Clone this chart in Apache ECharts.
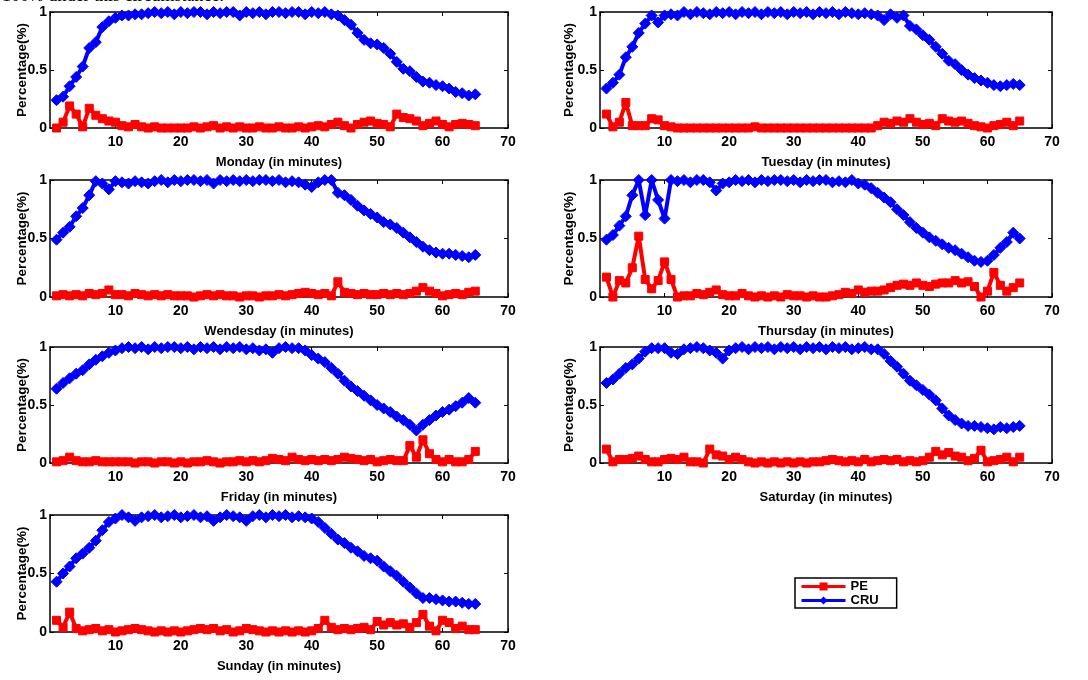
<!DOCTYPE html>
<html>
<head>
<meta charset="utf-8">
<script src="https://cdn.jsdelivr.net/npm/echarts@6/dist/echarts.min.js"></script>
<style>
html,body{margin:0;padding:0;background:#fff;}
#chart{width:1088px;height:680px;}
</style>
</head>
<body>
<div id="chart"></div>
<script>
// ---------- DATA ----------
const minutes = [1,2,3,4,5,6,7,8,9,10,11,12,13,14,15,16,17,18,19,20,21,22,23,24,25,26,27,28,29,30,31,32,33,34,35,36,37,38,39,40,41,42,43,44,45,46,47,48,49,50,51,52,53,54,55,56,57,58,59,60,61,62,63,64,65];
const seriesNames = ['PE', 'CRU'];
const dayLabels = ['Monday (in minutes)','Tuesday (in minutes)','Wendesday (in minutes)','Thursday (in minutes)','Friday (in minutes)','Saturday (in minutes)','Sunday (in minutes)'];
const xTicks = [0,10,20,30,40,50,60,70];
const yTicks = [0,0.5,1];

const monCRU = [0.24,0.27,0.36,0.44,0.53,0.69,0.74,0.87,0.92,0.95,0.97,0.97,0.98,0.98,0.99,1.0,0.99,1.0,0.98,1.0,0.99,1.0,1.0,0.98,1.0,0.99,1.0,1.0,0.97,1.0,0.99,1.0,0.98,1.0,1.0,0.99,1.0,1.0,0.98,1.0,0.99,1.0,0.98,0.97,0.93,0.89,0.82,0.76,0.73,0.72,0.69,0.64,0.57,0.51,0.49,0.44,0.40,0.39,0.37,0.36,0.34,0.31,0.30,0.28,0.29];
const monPE  = [0.0,0.05,0.19,0.12,0.01,0.17,0.11,0.08,0.06,0.05,0.02,0.01,0.03,0.01,0.0,0.01,0.0,0.0,0.0,0.0,0.0,0.01,0.0,0.01,0.02,0.0,0.01,0.0,0.01,0.0,0.0,0.01,0.0,0.0,0.01,0.0,0.0,0.01,0.0,0.01,0.02,0.01,0.03,0.05,0.02,0.0,0.03,0.05,0.06,0.04,0.03,0.01,0.12,0.09,0.08,0.06,0.02,0.04,0.06,0.03,0.01,0.03,0.04,0.03,0.02];
const tueCRU = [0.34,0.39,0.46,0.61,0.70,0.82,0.90,0.97,0.91,0.97,0.98,0.97,1.0,0.98,1.0,0.99,0.98,1.0,0.99,1.0,0.98,1.0,0.99,1.0,0.98,1.0,0.99,1.0,0.98,1.0,0.99,1.0,0.98,1.0,0.99,1.0,0.98,1.0,0.99,0.98,0.99,0.98,0.97,0.93,0.98,0.95,0.97,0.88,0.85,0.80,0.76,0.70,0.64,0.58,0.55,0.50,0.46,0.43,0.41,0.39,0.37,0.36,0.37,0.38,0.37];
const tuePE  = [0.12,0.01,0.05,0.22,0.02,0.02,0.02,0.08,0.07,0.02,0.01,0.0,0.0,0.0,0.0,0.0,0.0,0.0,0.0,0.0,0.0,0.0,0.0,0.01,0.0,0.0,0.0,0.0,0.0,0.0,0.0,0.0,0.0,0.0,0.0,0.0,0.0,0.0,0.0,0.0,0.0,0.0,0.02,0.05,0.04,0.06,0.05,0.08,0.05,0.03,0.04,0.02,0.08,0.06,0.05,0.06,0.04,0.02,0.01,0.0,0.02,0.03,0.05,0.02,0.06];
const wedCRU = [0.49,0.55,0.60,0.69,0.76,0.87,0.99,0.97,0.92,0.99,0.98,0.97,0.99,0.98,0.97,0.99,1.0,0.98,1.0,0.99,1.0,1.0,0.99,1.0,0.97,1.0,0.99,1.0,0.99,1.0,0.99,1.0,1.0,0.99,1.0,0.98,0.99,0.98,0.96,0.94,0.98,1.0,1.0,0.89,0.87,0.83,0.78,0.74,0.71,0.68,0.64,0.62,0.59,0.55,0.51,0.47,0.43,0.40,0.38,0.37,0.37,0.36,0.35,0.34,0.36];
const wedPE  = [0.01,0.02,0.01,0.02,0.01,0.03,0.02,0.03,0.06,0.02,0.02,0.01,0.03,0.02,0.01,0.02,0.01,0.02,0.01,0.01,0.01,0.0,0.01,0.02,0.01,0.02,0.01,0.01,0.0,0.01,0.01,0.0,0.01,0.01,0.02,0.01,0.02,0.03,0.04,0.03,0.02,0.03,0.01,0.13,0.04,0.03,0.02,0.03,0.02,0.02,0.03,0.02,0.03,0.02,0.03,0.05,0.08,0.05,0.03,0.01,0.02,0.03,0.02,0.04,0.05];
const thuCRU = [0.49,0.53,0.61,0.69,0.87,1.0,0.70,1.0,0.83,0.67,1.0,0.99,1.0,0.98,1.0,1.0,0.98,0.91,0.97,0.98,1.0,0.99,1.0,0.98,1.0,0.99,1.0,1.0,0.99,1.0,0.98,1.0,0.99,1.0,1.0,0.98,0.99,0.98,1.0,0.97,0.96,0.93,0.89,0.85,0.81,0.75,0.70,0.64,0.59,0.55,0.51,0.48,0.45,0.42,0.40,0.37,0.34,0.31,0.30,0.31,0.36,0.42,0.47,0.55,0.50];
const thuPE  = [0.17,0.0,0.14,0.12,0.25,0.52,0.15,0.07,0.14,0.30,0.15,0.0,0.01,0.01,0.03,0.02,0.04,0.06,0.02,0.01,0.01,0.03,0.01,0.0,0.01,0.0,0.01,0.0,0.02,0.01,0.01,0.0,0.01,0.0,0.0,0.01,0.02,0.04,0.03,0.06,0.04,0.05,0.05,0.06,0.08,0.10,0.11,0.10,0.12,0.10,0.09,0.11,0.12,0.12,0.14,0.12,0.13,0.09,0.0,0.05,0.21,0.10,0.05,0.08,0.12];
const friCRU = [0.64,0.69,0.73,0.77,0.80,0.85,0.89,0.92,0.95,0.97,0.99,1.0,0.99,1.0,0.98,1.0,0.99,1.0,1.0,0.99,1.0,0.98,1.0,0.99,1.0,0.98,1.0,0.99,1.0,0.98,0.99,0.97,0.98,0.95,0.99,1.0,0.99,0.99,0.97,0.93,0.90,0.87,0.82,0.77,0.71,0.66,0.62,0.58,0.54,0.50,0.47,0.44,0.40,0.37,0.33,0.28,0.33,0.37,0.41,0.44,0.46,0.49,0.52,0.56,0.52];
const friPE  = [0.01,0.02,0.05,0.02,0.01,0.01,0.02,0.01,0.01,0.01,0.01,0.01,0.0,0.01,0.01,0.0,0.01,0.01,0.0,0.01,0.0,0.01,0.01,0.02,0.01,0.0,0.01,0.01,0.02,0.01,0.02,0.01,0.02,0.04,0.03,0.02,0.05,0.03,0.02,0.03,0.02,0.03,0.02,0.03,0.05,0.04,0.03,0.02,0.03,0.01,0.02,0.03,0.02,0.02,0.15,0.05,0.20,0.08,0.03,0.01,0.03,0.01,0.01,0.03,0.10];
const satCRU = [0.69,0.72,0.77,0.82,0.85,0.90,0.96,0.99,0.99,0.99,0.95,0.94,0.98,0.99,1.0,0.99,0.97,0.95,0.90,0.97,0.99,1.0,0.98,1.0,0.99,1.0,0.98,1.0,0.99,1.0,0.98,1.0,0.99,1.0,0.98,1.0,0.99,1.0,0.98,0.99,1.0,0.98,0.98,0.94,0.88,0.83,0.77,0.71,0.67,0.63,0.59,0.54,0.47,0.41,0.37,0.34,0.32,0.32,0.31,0.30,0.29,0.31,0.30,0.31,0.32];
const satPE  = [0.12,0.01,0.03,0.03,0.04,0.06,0.03,0.01,0.01,0.03,0.04,0.03,0.05,0.01,0.01,0.0,0.12,0.07,0.06,0.03,0.05,0.03,0.01,0.0,0.01,0.0,0.01,0.0,0.01,0.0,0.01,0.0,0.01,0.01,0.02,0.03,0.02,0.01,0.02,0.01,0.03,0.01,0.02,0.03,0.02,0.03,0.01,0.02,0.01,0.02,0.05,0.10,0.07,0.09,0.06,0.05,0.02,0.04,0.11,0.01,0.02,0.03,0.05,0.01,0.05];
const sunCRU = [0.43,0.50,0.56,0.63,0.67,0.72,0.78,0.87,0.94,0.97,1.0,0.98,0.95,0.98,0.99,1.0,0.98,0.99,1.0,0.98,0.99,1.0,0.98,0.99,0.95,0.98,1.0,0.99,0.98,0.95,0.99,1.0,0.98,1.0,0.99,1.0,0.98,0.99,0.98,0.97,0.94,0.89,0.84,0.79,0.76,0.72,0.69,0.65,0.63,0.61,0.56,0.52,0.48,0.43,0.38,0.33,0.29,0.29,0.28,0.27,0.26,0.26,0.25,0.24,0.24];
const sunPE  = [0.10,0.04,0.17,0.03,0.01,0.02,0.03,0.01,0.02,0.0,0.01,0.02,0.03,0.02,0.01,0.0,0.01,0.0,0.01,0.0,0.01,0.02,0.03,0.02,0.03,0.01,0.02,0.0,0.01,0.03,0.02,0.01,0.0,0.01,0.0,0.01,0.0,0.01,0.0,0.01,0.03,0.10,0.04,0.02,0.03,0.02,0.03,0.04,0.02,0.09,0.06,0.08,0.06,0.07,0.04,0.08,0.15,0.05,0.01,0.10,0.08,0.03,0.05,0.02,0.02];

const cruByDay = [monCRU, tueCRU, wedCRU, thuCRU, friCRU, satCRU, sunCRU];
const peByDay  = [monPE, tuePE, wedPE, thuPE, friPE, satPE, sunPE];

// ---------- LAYOUT ----------
const grids = [
  {left: 50,  top: 12,  width: 458, height: 116},
  {left: 600, top: 12,  width: 452, height: 116},
  {left: 50,  top: 180, width: 458, height: 117},
  {left: 600, top: 180, width: 452, height: 117},
  {left: 50,  top: 347, width: 458, height: 116},
  {left: 600, top: 347, width: 452, height: 116},
  {left: 50,  top: 515, width: 458, height: 117}
];
const yNameGap = [21, 24, 21, 24, 21, 24, 21];

const FONT = 'Liberation Sans, Arial, sans-serif';
const lineBlack = {show: true, onZero: false, lineStyle: {color: '#000', width: 1.5}};
const tickIn = {show: true, inside: true, length: 4, lineStyle: {color: '#000', width: 1}};

const xAxes = [], yAxes = [], series = [];
grids.forEach((g, i) => {
  xAxes.push({
    type: 'value', gridIndex: i, min: xTicks[0], max: xTicks[xTicks.length - 1], interval: 10,
    position: 'bottom', axisLine: lineBlack, axisTick: tickIn,
    axisLabel: {show: true, showMinLabel: false, color: '#000', fontFamily: FONT, fontWeight: 'bold', fontSize: 14, margin: 7},
    splitLine: {show: false},
    name: dayLabels[i], nameLocation: 'middle', nameGap: 28, nameMoveOverlap: false,
    nameTextStyle: {color: '#000', fontFamily: FONT, fontWeight: 'bold', fontSize: 13}
  });
  xAxes.push({
    type: 'value', gridIndex: i, min: xTicks[0], max: xTicks[xTicks.length - 1], interval: 10,
    position: 'top', axisLine: lineBlack, axisTick: tickIn,
    axisLabel: {show: false}, splitLine: {show: false}
  });
  yAxes.push({
    type: 'value', gridIndex: i, min: yTicks[0], max: yTicks[yTicks.length - 1], interval: 0.5,
    position: 'left', axisLine: lineBlack, axisTick: tickIn,
    axisLabel: {show: true, color: '#000', fontFamily: FONT, fontWeight: 'bold', fontSize: 14, margin: 3,
      formatter: v => String(v)},
    splitLine: {show: false},
    name: 'Percentage(%)', nameLocation: 'middle', nameGap: yNameGap[i], nameMoveOverlap: false,
    nameTextStyle: {color: '#000', fontFamily: FONT, fontWeight: 'bold', fontSize: 13.5}
  });
  yAxes.push({
    type: 'value', gridIndex: i, min: yTicks[0], max: yTicks[yTicks.length - 1], interval: 0.5,
    position: 'right', axisLine: lineBlack, axisTick: tickIn,
    axisLabel: {show: false}, splitLine: {show: false}
  });

  const xi = i * 2, yi = i * 2;
  series.push({
    name: seriesNames[1], type: 'line', xAxisIndex: xi, yAxisIndex: yi,
    data: minutes.map((m, k) => [m, cruByDay[i][k]]),
    symbol: 'diamond', symbolSize: 11, showAllSymbol: true, clip: false,
    itemStyle: {color: '#0000ff', borderColor: '#0000ff'},
    lineStyle: {color: '#0000ff', width: 4}, z: 3
  });
  series.push({
    name: seriesNames[0], type: 'line', xAxisIndex: xi, yAxisIndex: yi,
    data: minutes.map((m, k) => [m, peByDay[i][k]]),
    symbol: 'rect', symbolSize: 8, showAllSymbol: true, clip: false,
    itemStyle: {color: '#ff0000', borderColor: '#ff0000'},
    lineStyle: {color: '#ff0000', width: 4}, z: 4
  });
});

const option = {
  backgroundColor: '#fff',
  animation: false,
  grid: grids.map(g => Object.assign({containLabel: false}, g)),
  xAxis: xAxes,
  yAxis: yAxes,
  series: series,
  legend: {
    data: ['PE', 'CRU'],
    orient: 'vertical', left: 795, top: 578,
    padding: [2, 18, 1, 5], itemGap: 1,
    itemWidth: 44, itemHeight: 10,
    lineStyle: {width: 3},
    borderColor: '#000', borderWidth: 1.5,
    textStyle: {color: '#000', fontFamily: FONT, fontWeight: 'bold', fontSize: 13},
    selectedMode: false
  },
  graphic: [{
    type: 'text', x: 2, y: -13, silent: true,
    style: {text: '100% under this circumstance.', fill: '#000', font: '18px "Liberation Serif", serif'}
  }]
};

const chart = echarts.init(document.getElementById('chart'), null, {renderer: 'canvas'});
chart.setOption(option);
</script>
</body>
</html>
